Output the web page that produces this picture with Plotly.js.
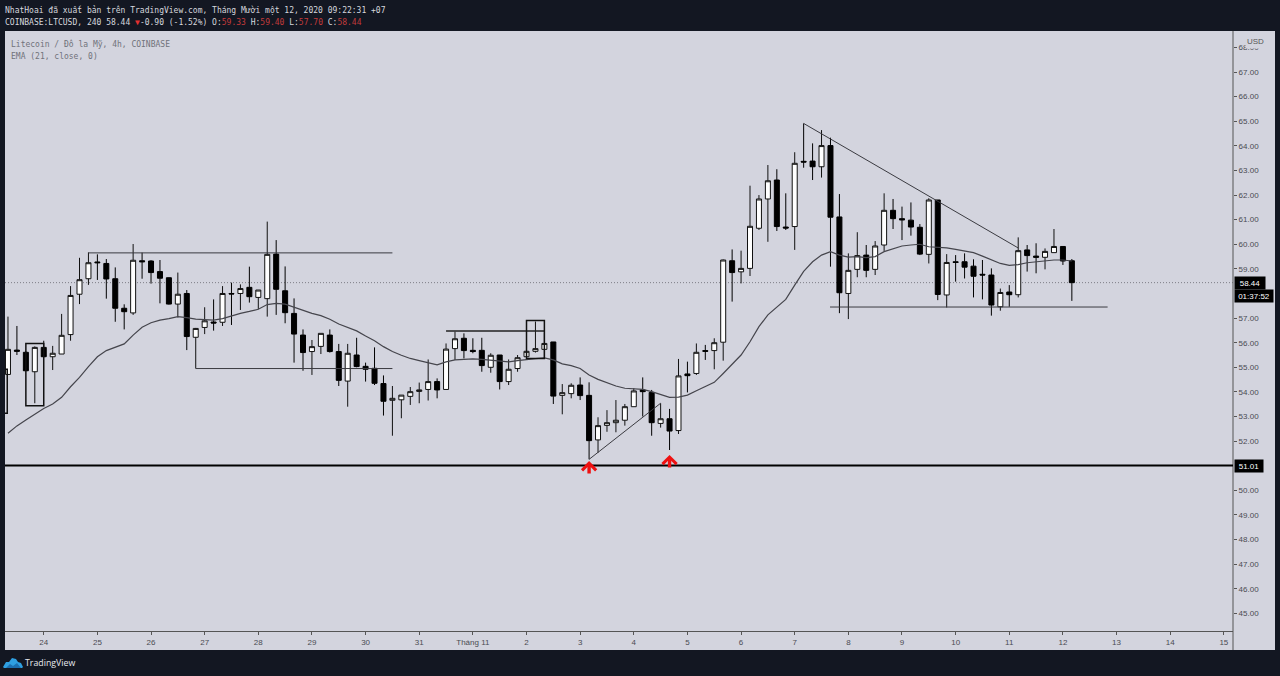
<!DOCTYPE html>
<html>
<head>
<meta charset="utf-8">
<script src="https://cdn.plot.ly/plotly-3.0.1.min.js"></script>
<style>html,body{margin:0;padding:0;background:#131722;overflow:hidden}</style>
</head>
<body>
<div id="chart" style="width:1280px;height:676px"></div>
<script>
// 4h candles, first one is Oct 23 08:00
const opens=[54.71,55.70,55.61,54.82,55.81,55.43,55.54,56.33,57.97,58.60,59.28,59.22,58.60,57.40,57.21,59.33,59.32,58.89,58.64,57.57,58.00,56.22,56.62,56.84,56.83,58.00,58.00,58.25,57.84,57.79,
59.60,58.11,57.19,56.31,55.64,55.85,56.31,55.64,54.44,55.50,55.04,54.96,54.34,53.66,53.68,53.82,54.02,54.10,54.42,54.10,55.76,56.18,55.69,55.69,55.00,55.50,54.42,54.95,55.43,55.65,
55.73,56.03,53.86,53.93,54.28,53.86,52.05,52.64,52.75,52.85,53.40,54.08,53.98,52.72,52.91,52.43,54.73,54.75,55.68,55.68,56.02,59.33,58.88,59.02,60.65,61.84,62.61,60.70,60.72,63.37,
63.38,63.15,64.01,61.11,58.00,58.98,59.56,58.98,59.97,61.38,61.04,60.98,60.69,59.59,61.80,57.94,59.29,59.29,59.11,58.78,58.75,57.46,58.06,57.95,59.77,59.52,59.47,59.66,59.91,59.33];
const highs=[57.06,56.68,55.65,55.85,56.08,55.87,57.17,58.30,59.45,59.67,59.59,59.40,59.06,57.56,60.01,59.66,59.35,59.36,58.65,58.85,58.14,56.60,57.44,57.76,58.30,58.44,58.37,59.09,58.14,60.92,
60.17,59.10,57.80,56.54,56.11,56.38,56.54,55.95,55.95,56.20,55.19,55.81,54.67,54.24,53.87,54.20,54.38,55.32,54.55,55.97,56.45,56.38,56.18,56.20,55.57,55.50,55.32,55.50,55.95,56.86,
56.40,56.03,54.32,54.35,54.59,54.39,52.97,53.26,53.67,53.51,54.15,54.59,54.08,53.54,53.31,55.34,55.23,55.97,55.91,56.18,59.38,59.79,59.74,62.38,62.00,63.22,63.05,62.07,63.74,64.91,
64.10,64.64,64.33,62.04,59.63,60.49,59.97,60.13,62.07,61.84,61.53,61.70,60.82,61.87,61.80,59.60,59.56,59.63,59.39,59.36,59.02,58.20,58.34,60.28,59.97,60.04,59.83,60.62,59.91,59.40];
const lows=[54.70,55.50,54.85,53.54,55.40,54.89,55.54,56.08,57.57,58.35,58.55,57.79,56.85,56.54,57.13,58.60,58.40,57.60,57.55,57.03,55.70,54.95,56.35,56.49,56.68,56.72,57.33,57.63,57.36,57.06,
57.13,56.79,55.19,54.86,54.69,55.54,55.60,54.24,53.40,55.00,54.42,54.28,53.04,52.22,52.93,53.47,53.54,53.65,53.74,54.10,55.30,55.36,55.57,54.82,54.78,54.10,54.28,54.82,55.37,55.60,
55.37,53.51,53.09,53.74,53.67,51.26,51.53,52.38,52.36,52.63,53.40,53.00,52.22,52.55,51.64,52.29,53.98,54.69,55.30,54.92,55.27,57.67,58.41,58.71,60.58,60.10,60.54,60.58,59.77,63.11,
62.61,62.71,59.09,57.20,56.96,58.66,58.66,58.75,59.73,60.62,60.17,60.35,59.56,59.22,57.73,57.43,58.48,58.61,57.84,57.76,57.10,57.30,57.46,57.84,58.89,58.82,58.98,59.66,59.16,57.70];
const closes=[55.73,55.65,54.86,55.81,55.43,55.57,56.30,57.92,58.56,59.25,59.25,58.59,57.40,57.26,59.35,59.29,58.85,58.62,57.57,57.97,56.25,56.58,56.89,56.80,58.00,57.98,58.20,57.87,58.14,59.59,
58.17,57.22,56.35,55.60,55.84,56.38,55.64,54.47,55.57,55.03,54.92,54.35,53.62,53.74,53.87,54.01,54.08,54.42,54.08,55.74,56.16,55.68,55.64,55.07,55.49,54.42,54.92,55.39,55.65,55.76,
55.97,53.83,53.97,54.27,53.85,52.02,52.63,52.75,52.85,53.40,54.04,54.01,52.75,52.91,52.41,54.65,54.66,55.61,55.65,56.00,59.36,58.85,59.02,60.73,61.84,62.58,60.72,60.66,63.29,63.34,
63.15,64.01,61.10,58.03,58.94,59.54,58.94,59.93,61.38,61.04,60.99,60.70,59.60,61.80,57.96,59.26,59.26,59.07,58.70,58.75,57.53,58.04,57.95,59.74,59.54,59.47,59.71,59.91,59.32,58.44];
const ema21=[52.32,52.62,52.86,53.10,53.33,53.51,53.78,54.21,54.59,55.03,55.43,55.68,55.81,55.95,56.31,56.63,56.81,56.92,56.98,57.06,57.02,56.96,56.94,56.92,56.98,57.10,57.19,57.27,57.36,57.55,
57.60,57.57,57.44,57.33,57.19,57.10,56.95,56.76,56.63,56.48,56.27,56.08,55.84,55.64,55.49,55.36,55.27,55.20,55.10,55.22,55.30,55.32,55.34,55.32,55.28,55.24,55.22,55.27,55.32,55.35,
55.38,55.30,55.14,55.07,54.95,54.69,54.51,54.38,54.24,54.15,54.12,54.10,54.01,53.90,53.78,53.79,53.87,54.05,54.21,54.39,54.75,55.13,55.50,56.04,56.65,57.13,57.46,57.76,58.34,58.90,
59.29,59.56,59.70,59.56,59.48,59.50,59.46,59.50,59.70,59.83,59.93,59.97,60.00,59.90,59.89,59.85,59.79,59.74,59.66,59.52,59.36,59.22,59.14,59.17,59.25,59.29,59.32,59.36,59.36,59.32];

const priceTicks=[45,46,47,48,49,50,52,53,54,55,56,57,59,60,61,62,63,64,65,66,67,68];
const dayTicks=['2020-10-24','2020-10-25','2020-10-26','2020-10-27','2020-10-28','2020-10-29','2020-10-30','2020-10-31','2020-11-01','2020-11-02','2020-11-03','2020-11-04','2020-11-05','2020-11-06','2020-11-07','2020-11-08','2020-11-09','2020-11-10','2020-11-11','2020-11-12','2020-11-13','2020-11-14','2020-11-15'];
const dayLabels=['24','25','26','27','28','29','30','31','Tháng 11','2','3','4','5','6','7','8','9','10','11','12','13','14','15'];

const lastPrice=58.44, supportPrice=51.01;

// drawings: [candle index start, price, candle index end, price]
const trendLines=[[9,59.65,43,59.65],[21,54.95,43,54.95],[49,56.48,60,56.48],[65,51.26,73,53.54],[89,64.91,113,59.85],[91.95,57.45,123,57.45]];
const boxes=[[2,55.97,4,53.44],[-6,54.92,-0.08,53.13],[58,56.9,60,55.36]];
const arrows=[[65,51.19],[74,51.44]];

const t0=Date.UTC(2020,9,23,8);
const tm=i=>new Date(t0+i*4*3600e3).toISOString().slice(0,19).replace('T',' ');
const times=opens.map((_,i)=>tm(i));

const W=1280,H=676,L=5,R=1233,T=31,B=631;
const px=x=>(x-L)/(R-L), py=y=>1-(y-T)/(B-T);
const MONO='"DejaVu Sans Mono", monospace', SANS='"Liberation Sans", Arial, sans-serif';
const RED='#c23b3b';

function label(x,y,text,o){
  return Object.assign({xref:'paper',yref:'paper',x:px(x),y:py(y),text,showarrow:false,xanchor:'left',yanchor:'middle',borderpad:0,
    font:{family:MONO,size:8,color:'#d6d8de'}},o||{});
}
function tag(y,w,text){
  return label(1234,y,text,{width:w,height:12,bgcolor:'#000',align:'center',font:{family:SANS,size:8,color:'#fff'}});
}
function rpath(pts){return 'M'+pts.map(p=>px(p[0])+' '+py(p[1])).join('L')+'Z'}

const shapes=[
  // light panels around the plot for the price and time scales
  {type:'rect',xref:'paper',yref:'paper',layer:'below',x0:px(L),x1:px(1275),y0:py(650),y1:py(T),fillcolor:'#d3d4de',line:{width:0}},
  {type:'line',xref:'paper',yref:'paper',layer:'above',x0:1,x1:1,y0:py(650),y1:py(T),line:{color:'#555',width:1}},
  {type:'line',xref:'paper',yref:'y',layer:'below',x0:0,x1:1,y0:lastPrice,y1:lastPrice,line:{color:'#7d7d85',width:1,dash:'1px,2px'}},
  {type:'line',xref:'paper',yref:'y',layer:'above',x0:0,x1:1,y0:supportPrice,y1:supportPrice,line:{color:'#000',width:2}},
  // tradingview logo
  {type:'path',xref:'paper',yref:'paper',layer:'above',path:rpath([[3,667],[6,662],[9,662],[12,658],[16,659],[18,662],[21,663],[23,667],[22,668],[4,668]]),fillcolor:'#2f9fe0',line:{width:0}},
  {type:'path',xref:'paper',yref:'paper',layer:'above',path:rpath([[6,668],[10,664],[13,666],[17,663],[21,668]]),fillcolor:'#1b6fb0',line:{width:0}}
];
// the one above the Nov 2 box is drawn heavier
trendLines.forEach((l,i)=>shapes.push({type:'line',x0:tm(l[0]),y0:l[1],x1:tm(l[2]),y1:l[3],line:{color:i==2?'#222':'#3a3a40',width:i==2?1.5:1}}));
boxes.forEach(b=>shapes.push({type:'rect',x0:tm(b[0]),y0:b[1],x1:tm(b[2]),y1:b[3],line:{color:'#111',width:1.5}}));

const annotations=[
  label(4,10,'NhatHoai đã xuất bản trên TradingView.com, Tháng Mười một 12, 2020 09:22:31 +07'),
  label(4,22,'COINBASE:LTCUSD, 240 58.44 <span style="color:#e03030">▼</span>-0.90 (-1.52%) O:<span style="color:'+RED+'">59.33</span> H:<span style="color:'+RED+'">59.40</span> L:<span style="color:'+RED+'">57.70</span> C:<span style="color:'+RED+'">58.44</span>'),
  label(10,44,'Litecoin / Đô la Mỹ, 4h, COINBASE',{font:{family:MONO,size:8,color:'#70727a'}}),
  label(10,56.5,'EMA (21, close, 0)',{font:{family:MONO,size:8,color:'#70727a'}}),
  label(1245,41,'USD',{width:18,height:13,bgcolor:'#d3d4de',align:'right',font:{family:SANS,size:8,color:'#555'}}),
  tag(283,30,'58.44'),
  tag(296,38,'01:37:52'),
  tag(465.5,28,'51.01'),
  label(24,663,'TradingView',{font:{family:'"Open Sans", sans-serif',size:8.8,color:'#e8e8ee'}})
];
arrows.forEach(a=>annotations.push({x:tm(a[0]),y:a[1],ax:0,ay:14,axref:'pixel',ayref:'pixel',text:'',showarrow:true,arrowhead:4,arrowsize:0.8,arrowwidth:3.4,arrowcolor:'#ee1111',standoff:0}));

const traces=[
  {type:'candlestick',x:times,open:opens,high:highs,low:lows,close:closes,
    increasing:{line:{color:'#111',width:1},fillcolor:'#ffffff'},
    decreasing:{line:{color:'#000',width:1},fillcolor:'#000000'},
    hoverinfo:'skip',showlegend:false},
  {type:'scatter',mode:'lines',x:times,y:ema21,line:{color:'#45454c',width:1.2},hoverinfo:'skip',showlegend:false}
];

const layout={
  width:W,height:H,
  margin:{l:L,r:W-R,t:T,b:H-B,pad:0},
  paper_bgcolor:'#131722',plot_bgcolor:'rgba(0,0,0,0)',
  showlegend:false,dragmode:false,boxgap:0.2,
  xaxis:{type:'date',range:['2020-10-23 06:40:00','2020-11-15 04:06:00'],rangeslider:{visible:false},
    tickmode:'array',tickvals:dayTicks,ticktext:dayLabels,ticks:'outside',ticklen:3,tickcolor:'#555',
    tickfont:{family:SANS,size:8,color:'#4a4b52'},showgrid:false,zeroline:false,showline:true,linecolor:'#555',linewidth:1},
  yaxis:{side:'right',range:[44.285,68.666],tickmode:'array',tickvals:priceTicks,tickformat:'.2f',ticks:'outside',ticklen:3,tickcolor:'#555',
    tickfont:{family:SANS,size:8,color:'#4a4b52'},showgrid:false,zeroline:false,showline:false},
  shapes,annotations
};

Plotly.newPlot('chart',traces,layout,{staticPlot:true,displayModeBar:false});
</script>
</body>
</html>
